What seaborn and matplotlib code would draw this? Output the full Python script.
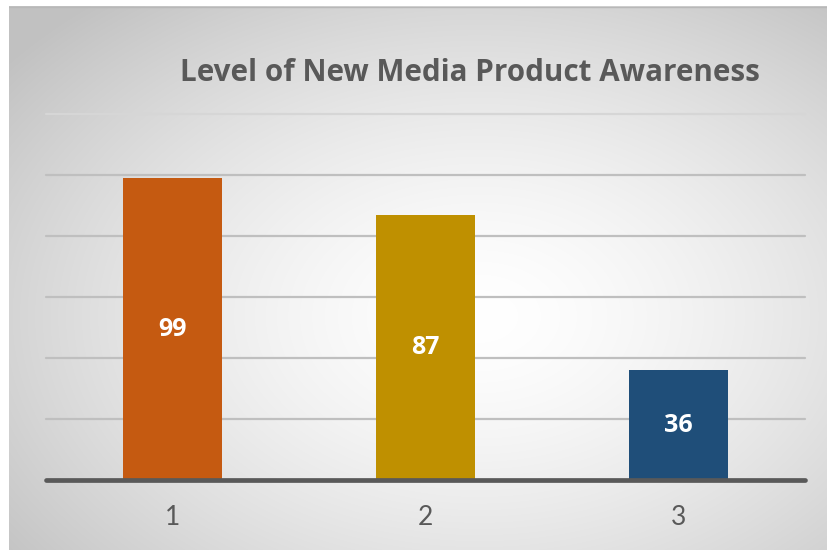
import numpy as np
import pandas as pd
import matplotlib
matplotlib.use("Agg")
import matplotlib.pyplot as plt
import seaborn as sns

categories = ["1", "2", "3"]
values = [99, 87, 36]
bar_colors = ["#C55A11", "#BF9000", "#1F4E79"]
title_text = "Level of New Media Product Awareness"
grid_ticks = [20, 40, 60, 80, 100, 120]

sns.set_theme(style="white")
plt.rcParams["font.family"] = ["Lato", "DejaVu Sans"]
bold_family = ["Open Sans", "DejaVu Sans"]

W, H, DPI = 827, 550, 100
fig = plt.figure(figsize=(W / DPI, H / DPI), dpi=DPI)
fig.patch.set_facecolor("white")

# radial gradient backdrop, white centre fading to grey at the edges
bg = fig.add_axes([9 / W, 0, 1 - 9 / W, 1 - 6 / H], zorder=0)
bw, bh = 818, 544
yy, xx = np.mgrid[0:bh, 0:bw]
cx, cy = 470, 310
r = np.sqrt(((xx - cx) / 500.0) ** 2 + ((yy - cy) / 340.0) ** 2)
shade = 1.0 - 0.24 * np.clip(r, 0, 1.2) ** 1.5 / 1.2 ** 1.5
bg.imshow(np.dstack([shade] * 3), aspect="auto", interpolation="bilinear")
bg.axhline(0.5, color="#b8b8b8", lw=1.0)
bg.set_axis_off()

ax = fig.add_axes([46 / W, 1 - 480 / H, (805 - 46) / W, (480 - 114) / H], zorder=1)
ax.patch.set_alpha(0)

df = pd.DataFrame({"group": categories, "value": values})
sns.barplot(data=df, x="group", y="value", hue="group", palette=bar_colors,
            width=0.39, legend=False, saturation=1, linewidth=0, ax=ax, zorder=3)

ax.set_ylim(0, 120)
ax.set_xlim(-0.5, 2.5)
for t in grid_ticks:
    ax.axhline(t, color="#bfbfbf" if t < 120 else "#d6d6d6", lw=1.6, zorder=1,
               clip_on=False)
ax.axhline(0, color="#595959", lw=3.4, zorder=4, clip_on=False)

for p, v in zip(ax.patches, values):
    ax.text(p.get_x() + p.get_width() / 2, v / 2, str(v), ha="center", va="center",
            color="white", fontsize=18, fontweight="bold", family=bold_family, zorder=5)

for s in ax.spines.values():
    s.set_visible(False)
ax.set_yticks([])
ax.set_xlabel("")
ax.set_ylabel("")
ax.tick_params(axis="x", length=0, pad=18, labelsize=19, labelcolor="#595959")

fig.text(470 / W, 1 - 73 / H, title_text, ha="center", va="center",
         fontsize=21.3, fontweight="bold", family=bold_family, color="#595959")

fig.savefig("out.png", dpi=DPI)
